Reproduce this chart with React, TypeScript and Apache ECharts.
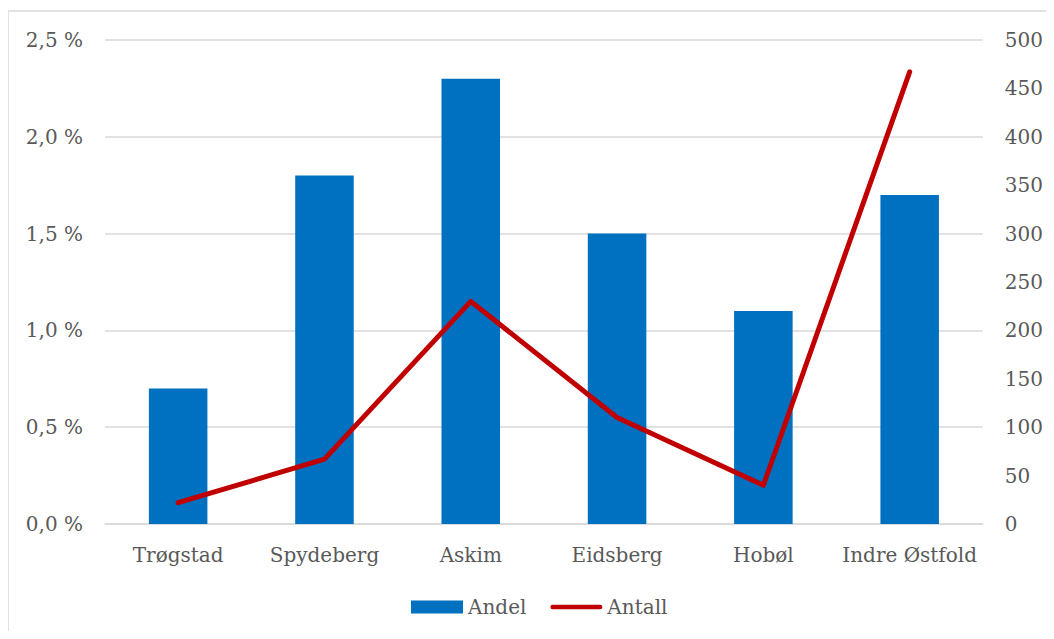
import React, { useEffect, useRef } from "react";
import * as echarts from "echarts";

const categories = ["Trøgstad", "Spydeberg", "Askim", "Eidsberg", "Hobøl", "Indre Østfold"];
const andel = [0.7, 1.8, 2.3, 1.5, 1.1, 1.7];
const antall = [22, 67, 230, 110, 40, 467];

const FONT = "DejaVu Serif";
const TXT = "#595959";
const FS = 20;

export default function App() {
  const ref = useRef<HTMLDivElement>(null);
  useEffect(() => {
    const chart = echarts.init(ref.current!, undefined, { renderer: "svg" });
    chart.setOption({
      animation: false,
      textStyle: { fontFamily: FONT },
      graphic: [
        {
          type: "rect",
          shape: { x: 0, y: 3, width: 1200, height: 800 },
          style: { fill: "none", stroke: "#d9d9d9", lineWidth: 1.5 },
          silent: true,
        },
      ],
      grid: { left: 97, right: 57, top: 32, bottom: 107, containLabel: false },
      legend: {
        bottom: 9,
        left: 398,
        itemWidth: 52,
        itemHeight: 13,
        itemGap: 24,
        textStyle: { fontFamily: FONT, fontSize: FS, color: TXT },
        data: [
          { name: "Andel", icon: "rect" },
          {
            name: "Antall",
            icon: "path://M2.5,0H53.5A2.5,2.5,0,0,1,53.5,5H2.5A2.5,2.5,0,0,1,2.5,0Z",
            itemStyle: { color: "#C00000" },
          },
        ],
      },
      xAxis: {
        type: "category",
        data: categories,
        axisTick: { show: false },
        axisLine: { show: true, lineStyle: { color: "#d9d9d9", width: 1.5 } },
        axisLabel: { fontFamily: FONT, fontSize: FS, color: TXT, margin: 21, interval: 0 },
      },
      yAxis: [
        {
          type: "value",
          min: 0,
          max: 2.5,
          interval: 0.5,
          axisLine: { show: false },
          axisTick: { show: false },
          splitLine: { lineStyle: { color: "#d9d9d9", width: 1.5 } },
          axisLabel: {
            fontFamily: FONT,
            fontSize: FS,
            color: TXT,
            margin: 22,
            formatter: (v: number) => v.toFixed(1).replace(".", ",") + " %",
          },
        },
        {
          type: "value",
          min: 0,
          max: 500,
          interval: 50,
          position: "right",
          axisLine: { show: false },
          axisTick: { show: false },
          splitLine: { show: false },
          axisLabel: { fontFamily: FONT, fontSize: FS, color: TXT, margin: 22 },
        },
      ],
      series: [
        {
          name: "Andel",
          type: "bar",
          data: andel,
          barWidth: "40%",
          itemStyle: { color: "#0070C0" },
          yAxisIndex: 0,
        },
        {
          name: "Antall",
          type: "line",
          data: antall,
          yAxisIndex: 1,
          symbol: "none",
          lineStyle: { color: "#C00000", width: 5, cap: "round", join: "round" },
          itemStyle: { color: "#C00000" },
        },
      ],
    });
    return () => chart.dispose();
  }, []);
  return <div ref={ref} style={{ width: 1038, height: 623 }} />;
}
